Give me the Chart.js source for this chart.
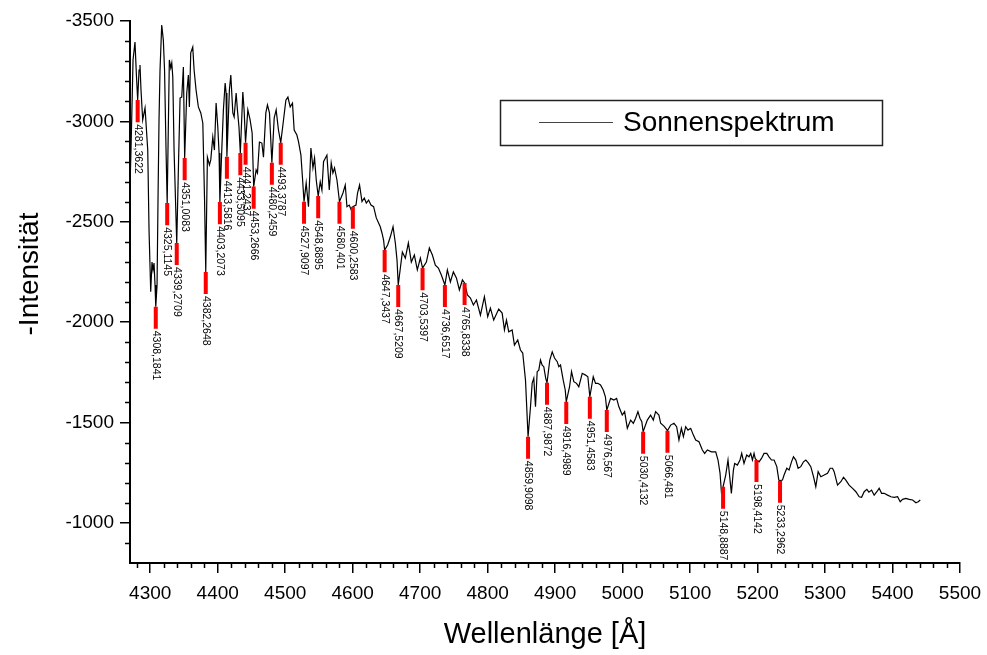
<!DOCTYPE html>
<html>
<head>
<meta charset="utf-8">
<script src="https://cdn.jsdelivr.net/npm/chart.js@4"></script>
<style>
  html, body { margin: 0; padding: 0; background: #fff; }
  canvas { display: block; }
</style>
</head>
<body>
<canvas id="chart" width="987" height="655"></canvas>
<script>
// Wavelength (Angstrom) and -intensity
const spectrumWl = [
  4270, 4271.5, 4274.5, 4277.4, 4279.5, 4281.36, 4283.4, 4284.8, 4286.3, 4288.8,
  4292.3, 4296.3, 4298.2, 4300.7, 4302.6, 4304.1, 4305.6, 4307.1, 4308.18, 4310.1,
  4311.5, 4313, 4314.5, 4317, 4319.4, 4321.2, 4323.4, 4325.11, 4328.3, 4330.4,
  4331.9, 4333.4, 4335.3, 4339.27, 4342, 4344.2, 4346.7, 4349.1, 4351.01, 4354.1,
  4356.5, 4358, 4360, 4363, 4365, 4367.9, 4371.3, 4374.9, 4377.9, 4380.5,
  4382.26, 4384.7, 4387.7, 4389.7, 4392.7, 4395.1, 4397.6, 4400.1, 4402, 4403.21,
  4406, 4408.4, 4411, 4412.4, 4413.58, 4417.3, 4419.4, 4422.4, 4424.3, 4427.3,
  4429.2, 4431.5, 4433.51, 4437.2, 4439.1, 4441.24, 4444.6, 4448, 4451, 4453.27,
  4456.9, 4458.9, 4461.8, 4465.4, 4467.8, 4471.3, 4473.7, 4476.7, 4480.25, 4483.7,
  4486.6, 4490, 4493.38, 4497.5, 4501, 4504, 4507.4, 4510.8, 4513.3, 4517.3,
  4519.7, 4523.3, 4525.5, 4527.91, 4531.1, 4534.5, 4538.1, 4541.1, 4543.5, 4546,
  4548.89, 4551.9, 4554.4, 4556.8, 4561.8, 4565.3, 4568.2, 4570.7, 4573.1, 4576.7,
  4580.4, 4585.6, 4589, 4591.5, 4594.9, 4597.9, 4600.26, 4604.9, 4607.2, 4610.2,
  4613.8, 4617.2, 4620.2, 4623.6, 4627.1, 4631, 4635, 4638.4, 4640.9, 4643.4,
  4645.8, 4647.34, 4651.8, 4655.8, 4659.8, 4663.2, 4665.7, 4667.52, 4673.6, 4678,
  4682.5, 4686.9, 4691.4, 4695.8, 4700.3, 4703.54, 4709.2, 4713.6, 4718.1, 4722.5,
  4727, 4731.4, 4736.65, 4740.3, 4744.8, 4749.2, 4753.7, 4758.1, 4762.6, 4765.83,
  4770, 4774.5, 4778.9, 4783.4, 4789.3, 4795.2, 4800.1, 4804.1, 4809, 4816.4,
  4821.5, 4824.9, 4827.9, 4831.3, 4836.3, 4839.7, 4844.6, 4848.6, 4852, 4856.1,
  4859.91, 4863.5, 4866, 4868.4, 4870.9, 4873.4, 4875.8, 4878.3, 4880.8, 4883.2,
  4886, 4887.99, 4892.1, 4895.7, 4899.1, 4903.1, 4905.5, 4908, 4912, 4915,
  4916.5, 4921.4, 4924.3, 4927.7, 4931.7, 4935.1, 4940.2, 4945.1, 4948.5, 4951.46,
  4956.5, 4959.9, 4963.3, 4967.3, 4971.3, 4974.5, 4976.57, 4982.2, 4987.1, 4991.1,
  4994.5, 4999.5, 5003, 5007, 5011.9, 5015.9, 5019.3, 5022.7, 5025.7, 5028.5,
  5030.41, 5036.6, 5041.5, 5045.5, 5048.9, 5053.8, 5056.4, 5061.3, 5064, 5066.48,
  5071.2, 5076.1, 5080.1, 5083.5, 5087.1, 5090.1, 5093.5, 5096.9, 5100.9, 5104.9,
  5108.3, 5113.2, 5118.2, 5121.6, 5125.6, 5131.6, 5138, 5141.4, 5144.4, 5146.4,
  5148.89, 5152.8, 5156.2, 5158.7, 5161.2, 5164.2, 5166.1, 5170.1, 5174, 5176.5,
  5179.9, 5183.9, 5187.3, 5189.9, 5192.4, 5194.8, 5196.5, 5198.41, 5202.2, 5205.8,
  5209.6, 5213.7, 5217, 5220.6, 5224.5, 5228.5, 5231.5, 5233.3, 5236.9, 5239.3,
  5243.3, 5246.7, 5250.3, 5253.2, 5256.7, 5260.1, 5264.1, 5268.1, 5271.5, 5274.9,
  5278.9, 5282.9, 5286.3, 5289.8, 5293.8, 5298.7, 5303.7, 5307.6, 5311.1, 5313.5,
  5318.5, 5323.4, 5327.4, 5330.8, 5335.7, 5340.8, 5345.7, 5350.6, 5354.2, 5358,
  5362, 5365, 5369, 5372.8, 5376.8, 5380.2, 5383.8, 5387.6, 5392.7, 5397.6,
  5402.5, 5407.5, 5411.4, 5414.9, 5419.8, 5424.7, 5429.8, 5434.7, 5438.1, 5441.1
];
const spectrumVal = [
  -2673, -2857, -3306, -3395, -3231, -3106, -3256, -3281, -3156, -3007,
  -3067, -2857, -2459, -2151, -2299, -2260, -2294, -2185, -2077, -2185,
  -2608, -3007, -3256, -3480, -3405, -3256, -2857, -2593, -3306, -3266,
  -3291, -3221, -2857, -2394, -2808, -3116, -3121, -3271, -2817, -3141,
  -3231, -3072, -3341, -3370, -3256, -3156, -3072, -3042, -2992, -2608,
  -2250, -2822, -2783, -2808, -2922, -2857, -3091, -2972, -2842, -2598,
  -2857, -3057, -3191, -3141, -2824, -3156, -3231, -3042, -3022, -3141,
  -3057, -2972, -2842, -3146, -3057, -2894, -3057, -3007, -2942, -2675,
  -2758, -2743, -2897, -2892, -2822, -3042, -3082, -3042, -2794, -3017,
  -3057, -2957, -2894, -3007, -3106, -3121, -3072, -3091, -2957, -2932,
  -2899, -2832, -2723, -2600, -2693, -2575, -2867, -2768, -2817, -2708,
  -2628, -2699, -2658, -2799, -2832, -2658, -2793, -2743, -2768, -2708,
  -2600, -2643, -2683, -2575, -2583, -2558, -2575, -2583, -2643, -2683,
  -2600, -2618, -2593, -2608, -2583, -2575, -2519, -2494, -2475, -2444,
  -2409, -2359, -2384, -2425, -2475, -2394, -2309, -2185, -2349, -2319,
  -2394, -2299, -2334, -2260, -2319, -2269, -2299, -2369, -2334, -2284,
  -2269, -2235, -2185, -2260, -2200, -2250, -2220, -2160, -2210, -2195,
  -2135, -2120, -2085, -2110, -2035, -2127, -2027, -2070, -2010, -2065,
  -2045, -1961, -2010, -1952, -1961, -1886, -1911, -1861, -1846, -1711,
  -1429, -1578, -1696, -1721, -1578, -1753, -1761, -1811, -1786, -1778,
  -1721, -1698, -1811, -1852, -1821, -1803, -1778, -1786, -1711, -1662,
  -1603, -1678, -1753, -1703, -1695, -1678, -1745, -1736, -1728, -1628,
  -1728, -1695, -1695, -1687, -1662, -1628, -1562, -1620, -1612, -1620,
  -1578, -1537, -1554, -1471, -1512, -1496, -1521, -1554, -1521, -1504,
  -1454, -1512, -1537, -1512, -1554, -1537, -1496, -1482, -1471, -1459,
  -1487, -1496, -1479, -1413, -1471, -1429, -1479, -1462, -1471, -1437,
  -1413, -1404, -1363, -1346, -1363, -1354, -1354, -1313, -1247, -1155,
  -1180, -1238, -1313, -1230, -1147, -1263, -1296, -1288, -1313, -1346,
  -1296, -1338, -1329, -1346, -1313, -1346, -1321, -1313, -1304, -1321,
  -1346, -1346, -1329, -1313, -1313, -1280, -1213, -1210, -1213, -1238,
  -1272, -1263, -1304, -1329, -1313, -1272, -1280, -1304, -1313, -1300,
  -1280, -1230, -1180, -1255, -1230, -1238, -1247, -1272, -1272, -1255,
  -1188, -1205, -1227, -1213, -1188, -1172, -1155, -1130, -1127, -1155,
  -1167, -1153, -1163, -1138, -1155, -1172, -1147, -1147, -1138, -1130,
  -1127, -1130, -1105, -1117, -1122, -1117, -1114, -1100, -1105, -1114
];

// Identified absorption lines: label text and the curve value where the red mark starts
const lineLabels = [
  '4281,3622', '4308,1841', '4325,1145', '4339,2709', '4351,0083', '4382,2648',
  '4403,2073', '4413,5816', '4433,5095', '4441,2437', '4453,2666', '4480,2459',
  '4493,3787', '4527,9097', '4548,8895', '4580,401', '4600,2583', '4647,3437',
  '4667,5209', '4703,5397', '4736,6517', '4765,8338', '4859,9098', '4887,9872',
  '4916,4989', '4951,4583', '4976,567', '5030,4132', '5066,481', '5148,8887',
  '5198,4142', '5233,2962'
];
const lineTop = [
  -3106, -2077, -2593, -2394, -2817, -2250,
  -2598, -2824, -2842, -2894, -2675, -2794,
  -2894, -2600, -2628, -2600, -2575, -2359,
  -2185, -2269, -2185, -2195, -1429, -1698,
  -1603, -1628, -1562, -1454, -1459, -1180,
  -1313, -1210
];
const MARK_LEN = 110;

const xTicks = [4300, 4400, 4500, 4600, 4700, 4800, 4900, 5000, 5100, 5200, 5300, 5400, 5500];
const yTicks = [-3500, -3000, -2500, -2000, -1500, -1000];

const FONT = "'Liberation Sans', Arial, sans-serif";

const spectrum = spectrumWl.map((w, i) => ({ x: w, y: spectrumVal[i] }));
const lineWl = lineLabels.map(s => parseFloat(s.replace(',', '.')));
const marks = [];
lineWl.forEach((w, i) => {
  marks.push({ x: w, y: lineTop[i] }, { x: w, y: lineTop[i] + MARK_LEN }, { x: w, y: null });
});

// minor ticks, line labels, legend box and y title
const extras = {
  id: 'extras',
  afterDraw(chart) {
    const { ctx, chartArea, scales: { x, y } } = chart;
    ctx.save();
    ctx.strokeStyle = '#000';
    ctx.lineWidth = 1.5;
    ctx.beginPath();
    for (let v = 4280; v < 5500; v += 20) {
      if (v % 100 === 0) continue;
      const px = Math.round(x.getPixelForValue(v)) + 0.5;
      ctx.moveTo(px, chartArea.bottom);
      ctx.lineTo(px, chartArea.bottom + 5);
    }
    for (let v = -3400; v <= -900; v += 100) {
      if (v % 500 === 0) continue;
      const py = Math.round(y.getPixelForValue(v)) + 0.5;
      ctx.moveTo(chartArea.left, py);
      ctx.lineTo(chartArea.left - 5, py);
    }
    ctx.stroke();

    // rotated line labels under each red mark
    ctx.fillStyle = '#000';
    ctx.font = "10.5px 'Liberation Sans Narrow', 'Liberation Sans', Arial, sans-serif";
    ctx.textAlign = 'left';
    ctx.textBaseline = 'middle';
    lineLabels.forEach((lbl, i) => {
      const px = x.getPixelForValue(lineWl[i]);
      const py = y.getPixelForValue(lineTop[i] + MARK_LEN) + 2;
      ctx.save();
      ctx.translate(px, py);
      ctx.rotate(Math.PI / 2);
      ctx.fillText(lbl, 0, 0);
      ctx.restore();
    });

    // legend box
    ctx.strokeStyle = '#222';
    ctx.lineWidth = 1.5;
    ctx.strokeRect(500.5, 100.5, 382, 45);
    ctx.strokeStyle = '#444';
    ctx.lineWidth = 1;
    ctx.beginPath();
    ctx.moveTo(539, 122.5);
    ctx.lineTo(613, 122.5);
    ctx.stroke();
    ctx.font = '28px ' + FONT;
    ctx.fillText(chart.data.datasets[1].label, 623, 123);

    // y axis title
    ctx.save();
    ctx.translate(30, 274);
    ctx.rotate(-Math.PI / 2);
    ctx.textAlign = 'center';
    ctx.font = '28px ' + FONT;
    ctx.fillText('-Intensität', 0, 0);
    ctx.restore();
    ctx.restore();
  }
};

new Chart(document.getElementById('chart'), {
  type: 'line',
  data: {
    datasets: [
      {
        label: 'Linien',
        data: marks,
        borderColor: '#ff0000',
        borderWidth: 4,
        borderCapStyle: 'butt',
        pointRadius: 0,
        spanGaps: false
      },
      {
        label: 'Sonnenspektrum',
        data: spectrum,
        borderColor: '#000',
        borderWidth: 1.2,
        pointRadius: 0,
        tension: 0
      }
    ]
  },
  options: {
    responsive: false,
    animation: false,
    layout: { padding: { top: 21, right: 27, left: 0, bottom: 0 } },
    plugins: { legend: { display: false }, tooltip: { enabled: false } },
    scales: {
      x: {
        type: 'linear',
        min: 4270,
        max: 5500,
        afterBuildTicks: s => { s.ticks = xTicks.map(v => ({ value: v })); },
        afterFit: s => { s.height = 92; s.paddingLeft = 0; s.paddingRight = 0; },
        border: { color: '#000', width: 2 },
        grid: { drawOnChartArea: false, color: '#000', lineWidth: 1.5, tickLength: 10 },
        ticks: { color: '#000', font: { size: 19, family: FONT }, padding: 9, maxRotation: 0, callback: v => String(v) },
        title: { display: true, text: 'Wellenlänge [Å]', color: '#000', font: { size: 29, family: FONT }, padding: { top: 3, bottom: 3 } }
      },
      y: {
        type: 'linear',
        reverse: true,
        min: -3500,
        max: -800,
        afterBuildTicks: s => { s.ticks = yTicks.map(v => ({ value: v })); },
        afterFit: s => { s.width = 130; },
        border: { color: '#000', width: 2 },
        grid: { drawOnChartArea: false, color: '#000', lineWidth: 1.5, tickLength: 10 },
        ticks: { color: '#000', font: { size: 19, family: FONT }, padding: 6, callback: v => String(v) }
      }
    }
  },
  plugins: [extras]
});
</script>
</body>
</html>
